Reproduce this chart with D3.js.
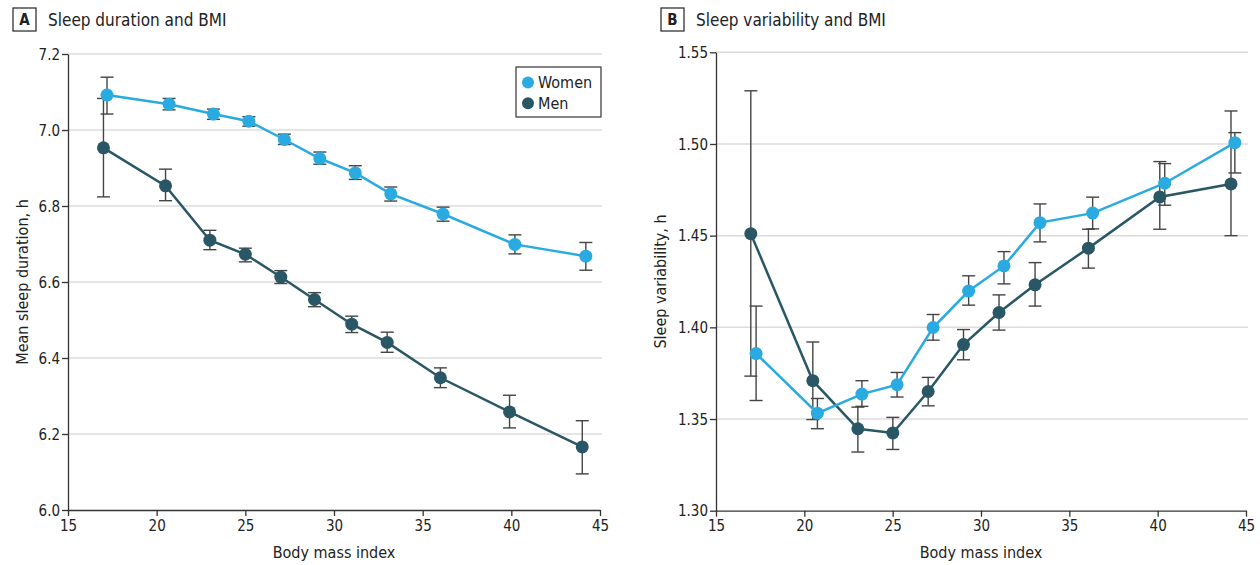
<!DOCTYPE html>
<html>
<head>
<meta charset="utf-8">
<script src="https://cdn.jsdelivr.net/npm/d3@7"></script>
<style>
  body { margin: 0; background: #fff; }
  svg { display: block; }
  text { font-family: "Liberation Sans Narrow", "DejaVu Sans Condensed", "Roboto", sans-serif; fill: #222; }
</style>
</head>
<body>
<svg width="1260" height="565"></svg>
<script>
// panel A: sleep duration
var womenBmiA = [17.2, 20.7, 23.2, 25.2, 27.2, 29.2, 31.2, 33.2, 36.15, 40.2, 44.2];
var womenDur = [7.092, 7.068, 7.042, 7.023, 6.975, 6.925, 6.887, 6.832, 6.779, 6.699, 6.668];
var womenDurLo = [7.042, 7.053, 7.028, 7.010, 6.962, 6.910, 6.870, 6.813, 6.760, 6.674, 6.631];
var womenDurHi = [7.139, 7.083, 7.055, 7.035, 6.989, 6.942, 6.906, 6.850, 6.797, 6.724, 6.704];

var menBmiA = [17.0, 20.5, 23.0, 25.0, 27.0, 28.9, 31.0, 33.0, 36.0, 39.9, 44.0];
var menDur = [6.953, 6.853, 6.710, 6.673, 6.613, 6.554, 6.489, 6.441, 6.348, 6.258, 6.166];
var menDurLo = [6.824, 6.814, 6.685, 6.653, 6.596, 6.535, 6.467, 6.415, 6.322, 6.216, 6.095];
var menDurHi = [7.083, 6.897, 6.736, 6.689, 6.630, 6.572, 6.510, 6.468, 6.374, 6.302, 6.235];

// panel B: sleep variability
var womenBmiB = [17.27, 20.74, 23.26, 25.25, 27.29, 29.30, 31.30, 33.34, 36.32, 40.40, 44.37];
var womenVar = [1.3857, 1.3532, 1.3636, 1.3687, 1.3999, 1.4198, 1.4335, 1.4571, 1.4623, 1.4786, 1.5007];
var womenVarLo = [1.3601, 1.3447, 1.3569, 1.3620, 1.3930, 1.4121, 1.4237, 1.4466, 1.4537, 1.4666, 1.4842];
var womenVarHi = [1.4116, 1.3612, 1.3709, 1.3754, 1.4070, 1.4281, 1.4413, 1.4673, 1.4710, 1.4893, 1.5062];

var menBmiB = [16.97, 20.48, 23.03, 25.01, 27.01, 29.01, 31.02, 33.06, 36.08, 40.12, 44.15];
var menVar = [1.4511, 1.3709, 1.3447, 1.3424, 1.3650, 1.3906, 1.4081, 1.4232, 1.4432, 1.4711, 1.4782];
var menVarLo = [1.3734, 1.3497, 1.3320, 1.3334, 1.3572, 1.3823, 1.3985, 1.4116, 1.4323, 1.4535, 1.4500];
var menVarHi = [1.5290, 1.3920, 1.3565, 1.3509, 1.3727, 1.3988, 1.4177, 1.4353, 1.4535, 1.4904, 1.5180];

var xTicks = [15, 20, 25, 30, 35, 40, 45];
var yTicksA = [6.0, 6.2, 6.4, 6.6, 6.8, 7.0, 7.2];
var yTicksB = [1.30, 1.35, 1.40, 1.45, 1.50, 1.55];

var womenColor = "#29abe2";
var menColor = "#2a5766";

var svg = d3.select("svg");

function zip(bmi, val, lo, hi) {
    return bmi.map(function(b, i) {
        return {x: b, y: val[i], lo: lo[i], hi: hi[i]};
    });
}

function drawPanel(opts) {
    var x = d3.scaleLinear().domain([15, 45]).range([opts.left, opts.right]);
    var y = d3.scaleLinear().domain(opts.yDomain).range([opts.bottom, opts.top]);
    var g = svg.append("g");

    // panel letter + title
    g.append("rect")
        .attr("x", opts.boxX).attr("y", 8)
        .attr("width", 23).attr("height", 23)
        .attr("fill", "none").attr("stroke", "#222").attr("stroke-width", 1.2);
    g.append("text")
        .attr("x", opts.boxX + 11.5).attr("y", 25)
        .attr("text-anchor", "middle")
        .style("font-size", "15px").style("font-weight", "bold")
        .text(opts.letter);
    g.append("text")
        .attr("x", opts.boxX + 35).attr("y", 26)
        .style("font-size", "17px")
        .text(opts.title);

    // grid
    g.selectAll(".grid")
        .data(opts.yTicks.slice(1))
        .enter().append("line")
        .attr("x1", opts.left).attr("x2", opts.right + 2)
        .attr("y1", function(d) { return y(d); })
        .attr("y2", function(d) { return y(d); })
        .attr("stroke", "#dcdcdc").attr("stroke-width", 1.5);

    var yAxis = g.append("g")
        .attr("transform", "translate(" + opts.left + ",0)")
        .call(d3.axisLeft(y).tickValues(opts.yTicks).tickFormat(d3.format(opts.yFormat)).tickSize(6).tickSizeOuter(0));
    var xAxis = g.append("g")
        .attr("transform", "translate(0," + opts.bottom + ")")
        .call(d3.axisBottom(x).tickValues(xTicks).tickSize(6).tickSizeOuter(0));

    [yAxis, xAxis].forEach(function(ax) {
        ax.select(".domain").attr("stroke", "#333").attr("stroke-width", 1.3);
        ax.selectAll(".tick line").attr("stroke", "#333").attr("stroke-width", 1.3);
        ax.selectAll(".tick text").style("font-size", "15px").attr("fill", "#222");
    });
    yAxis.selectAll(".tick text").attr("x", -8).attr("dy", "0.35em");
    xAxis.selectAll(".tick text").attr("y", 10);

    // axis labels
    g.append("text")
        .attr("x", (opts.left + opts.right) / 2).attr("y", 558)
        .attr("text-anchor", "middle")
        .style("font-size", "16px")
        .text("Body mass index");
    g.append("text")
        .attr("transform", "translate(" + opts.yLabelX + "," + ((opts.top + opts.bottom) / 2) + ") rotate(-90)")
        .attr("text-anchor", "middle")
        .style("font-size", "16px")
        .text(opts.yLabel);

    var line = d3.line()
        .x(function(d) { return x(d.x); })
        .y(function(d) { return y(d.y); });

    opts.series.forEach(function(s) {
        var eb = g.append("g");
        eb.selectAll("line.v").data(s.data).enter().append("line")
            .attr("x1", function(d) { return x(d.x); })
            .attr("x2", function(d) { return x(d.x); })
            .attr("y1", function(d) { return y(d.lo); })
            .attr("y2", function(d) { return y(d.hi); })
            .attr("stroke", "#444").attr("stroke-width", 1.4);
        ["lo", "hi"].forEach(function(k) {
            eb.selectAll("line." + k).data(s.data).enter().append("line")
                .attr("x1", function(d) { return x(d.x) - 6.5; })
                .attr("x2", function(d) { return x(d.x) + 6.5; })
                .attr("y1", function(d) { return y(d[k]); })
                .attr("y2", function(d) { return y(d[k]); })
                .attr("stroke", "#444").attr("stroke-width", 1.4);
        });
    });

    opts.series.forEach(function(s) {
        g.append("path")
            .datum(s.data)
            .attr("d", line)
            .attr("fill", "none")
            .attr("stroke", s.color)
            .attr("stroke-width", 2.5);
        g.selectAll(null).data(s.data).enter().append("circle")
            .attr("cx", function(d) { return x(d.x); })
            .attr("cy", function(d) { return y(d.y); })
            .attr("r", 6.5)
            .attr("fill", s.color);
    });
    return g;
}

var panelA = drawPanel({
    letter: "A", title: "Sleep duration and BMI", boxX: 13,
    left: 68, right: 600, top: 54, bottom: 510,
    yDomain: [6.0, 7.2], yTicks: yTicksA, yFormat: ".1f",
    yLabel: "Mean sleep duration, h", yLabelX: 28,
    series: [
        {color: menColor, data: zip(menBmiA, menDur, menDurLo, menDurHi)},
        {color: womenColor, data: zip(womenBmiA, womenDur, womenDurLo, womenDurHi)}
    ]
});

var panelB = drawPanel({
    letter: "B", title: "Sleep variability and BMI", boxX: 661,
    left: 716, right: 1246, top: 52.3, bottom: 510.7,
    yDomain: [1.30, 1.55], yTicks: yTicksB, yFormat: ".2f",
    yLabel: "Sleep variability, h", yLabelX: 666,
    series: [
        {color: menColor, data: zip(menBmiB, menVar, menVarLo, menVarHi)},
        {color: womenColor, data: zip(womenBmiB, womenVar, womenVarLo, womenVarHi)}
    ]
});

// legend
var legend = svg.append("g");
legend.append("rect")
    .attr("x", 516).attr("y", 67).attr("width", 85).attr("height", 50)
    .attr("fill", "#fff").attr("stroke", "#333").attr("stroke-width", 1.2);
var legendItems = [{name: "Women", color: womenColor}, {name: "Men", color: menColor}];
legend.selectAll("circle").data(legendItems).enter().append("circle")
    .attr("cx", 528).attr("cy", function(d, i) { return 82.5 + i * 20.7; })
    .attr("r", 6).attr("fill", function(d) { return d.color; });
legend.selectAll("text").data(legendItems).enter().append("text")
    .attr("x", 538).attr("y", function(d, i) { return 82.5 + i * 20.7; })
    .attr("dy", "0.35em")
    .style("font-size", "16px")
    .text(function(d) { return d.name; });
</script>
</body>
</html>
